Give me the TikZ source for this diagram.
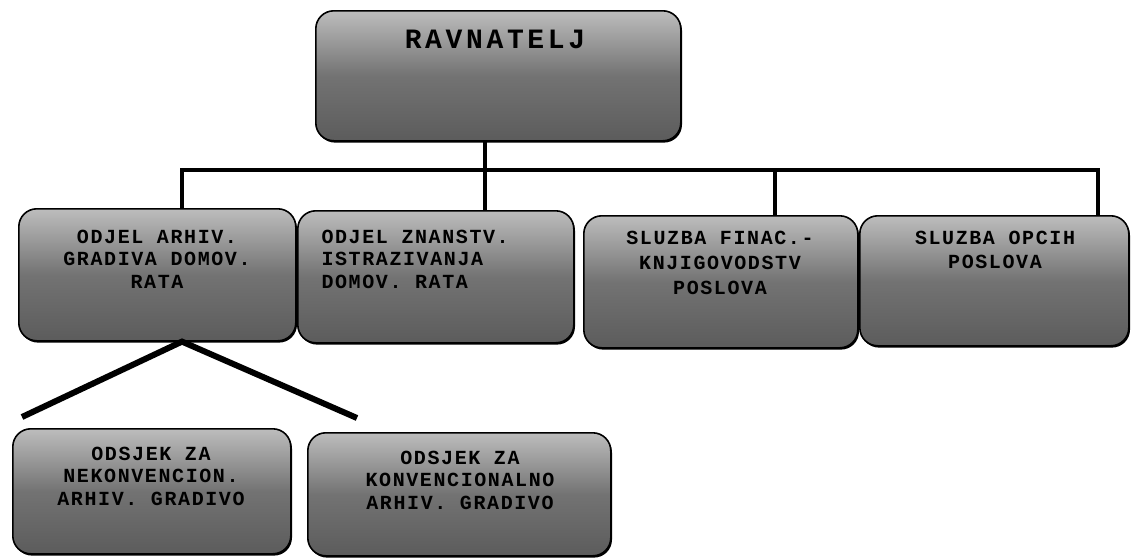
\documentclass[tikz,border=0pt]{standalone}
\usepackage{fontspec}
\usetikzlibrary{shadows}
\newfontfamily\boxfont[LetterSpace=8]{Liberation Mono}
\newfontfamily\headfont[LetterSpace=13]{Liberation Mono}
\definecolor{boxtop}{gray}{0.74}
\definecolor{boxmid}{gray}{0.45}
\definecolor{boxbot}{gray}{0.36}
\tikzset{
  orgbox/.style={draw=black, line width=1.6pt, rounded corners=18pt,
    top color=boxtop, bottom color=boxbot, middle color=boxmid,
    anchor=north west, inner sep=0pt,
    drop shadow={shadow xshift=1.2pt, shadow yshift=-1.8pt, fill=black, opacity=1}},
  boxtext/.style={font=\boxfont\bfseries\fontsize{20}{22.5}\selectfont, align=center, text=black},
  conn/.style={line width=3.5pt, draw=black},
  diag/.style={line width=6pt, draw=black}
}
\begin{document}
\begin{tikzpicture}[x=1pt,y=-1pt]
\useasboundingbox (0,0) rectangle (1131,558);
% boxes
\node[orgbox, minimum width=365pt, minimum height=130pt] (r) at (315,10) {};
\node[orgbox, minimum width=277pt, minimum height=132pt] (b1) at (18,208) {};
\node[orgbox, minimum width=276pt, minimum height=132pt] (b2) at (297,210) {};
\node[orgbox, minimum width=274pt, minimum height=132pt] (b3) at (583,215) {};
\node[orgbox, minimum width=269pt, minimum height=130pt] (b4) at (859,215) {};
\node[orgbox, minimum width=278pt, minimum height=125pt] (b5) at (12,428) {};
\node[orgbox, minimum width=303pt, minimum height=123pt] (b6) at (307,432) {};
% texts
\node[font=\headfont\bfseries\fontsize{28}{32}\selectfont] (tr) at (495,39) {RAVNATELJ};
\node[boxtext] (t1) at (157,259) {ODJEL ARHIV.\\GRADIVA DOMOV.\\RATA};
\node[boxtext, align=left, anchor=west] (t2) at (318,259) {ODJEL ZNANSTV.\\ISTRAZIVANJA\\DOMOV. RATA};
\node[boxtext, font=\boxfont\bfseries\fontsize{20}{25}\selectfont] (t3) at (720,263) {SLUZBA FINAC.-\\KNJIGOVODSTV\\POSLOVA};
\node[boxtext, font=\boxfont\bfseries\fontsize{20}{24}\selectfont] (t4) at (995,250) {SLUZBA OPCIH\\POSLOVA};
\node[boxtext] (t5) at (151,476) {ODSJEK ZA\\NEKONVENCION.\\ARHIV. GRADIVO};
\node[boxtext] (t6) at (460,480) {ODSJEK ZA\\KONVENCIONALNO\\ARHIV. GRADIVO};
% connectors
\coordinate (hl) at (182,170);
\coordinate (hr) at (1098,170);
\draw[conn] (r.south -| 485,0) -- (b2.north -| 485,0);
\draw[conn] (b1.north -| hl) -- (hl) -- (hr) -- (b4.north -| hr);
\draw[conn] (775,170) -- (b3.north -| 775,0);
\coordinate (dl) at (22,417);
\coordinate (dr) at (357,418);
\draw[diag] (dl) -- (b1.south -| 182,0) -- (dr);
\end{tikzpicture}
\end{document}
